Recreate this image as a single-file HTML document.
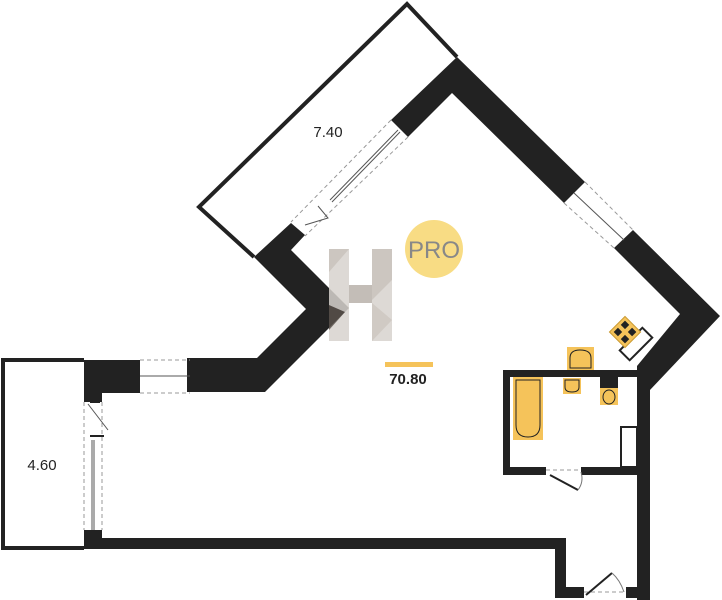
<!DOCTYPE html>
<html><head><meta charset="utf-8"><style>
html,body{margin:0;padding:0;background:#fff;}
svg{display:block;}
text{font-family:"Liberation Sans",sans-serif;}
</style></head><body>
<svg width="722" height="600" viewBox="0 0 722 600" xmlns="http://www.w3.org/2000/svg">
<!-- balcony 7.40 outline -->
<polyline points="254,257 199,207 407,4 457,57" fill="none" stroke="#222" stroke-width="4"/>
<!-- balcony 4.60 outline -->
<polyline points="84,360 3,360 3,548 84,548" fill="none" stroke="#222" stroke-width="4"/>

<g fill="#222">
<!-- NW/NE wall piece A -->
<polygon points="391,120 457,57 585,182 564,203 452,93 408,137"/>
<!-- NE wall piece B -->
<polygon points="633,230 720,316 650,390 650,600 637,600 637,366 680,314 614,248"/>
<!-- left notch wall -->
<polygon points="187,358 257,358 306,309 254,257 291,223 305,235 291,250 349,308 265,392 187,392"/>
<!-- left block -->
<polygon points="84,360 140,360 140,393 102,393 102,402 84,402"/>
<!-- bottom left block -->
<rect x="84" y="530" width="18" height="19"/>
<!-- bottom wall -->
<rect x="84" y="538" width="482" height="11"/>
<rect x="555" y="538" width="11" height="60"/>
<rect x="555" y="587" width="29" height="11"/>
<rect x="626" y="587" width="24" height="11"/>
<!-- bathroom walls -->
<rect x="503" y="370" width="134" height="7"/>
<rect x="503" y="370" width="7" height="105"/>
<rect x="503" y="467" width="43" height="8"/>
<rect x="581" y="467" width="56" height="8"/>
</g>
<rect x="621" y="427" width="16" height="40" fill="none" stroke="#222" stroke-width="2"/>

<!-- windows dashed -->
<g stroke="#999" stroke-width="1" stroke-dasharray="4,3" fill="none">
<line x1="391" y1="120" x2="291" y2="222"/>
<line x1="408" y1="137" x2="305" y2="236"/>
<line x1="585" y1="182" x2="633" y2="230"/>
<line x1="564" y1="203" x2="614" y2="248"/>
<line x1="140" y1="360" x2="190" y2="360"/>
<line x1="140" y1="393" x2="190" y2="393"/>
<line x1="84" y1="402" x2="84" y2="530"/>
<line x1="102" y1="402" x2="102" y2="530"/>
<line x1="546" y1="470" x2="581" y2="470"/>
<line x1="584" y1="592" x2="626" y2="592"/>
</g>
<g stroke="#555" stroke-width="1" fill="none">
<line x1="398" y1="130" x2="330" y2="200"/>
<line x1="400" y1="132" x2="332" y2="202"/>
<line x1="574" y1="193" x2="624" y2="240"/>
<line x1="164" y1="376" x2="166" y2="376"/>
<line x1="140" y1="376" x2="190" y2="376"/>
<line x1="92" y1="440" x2="92" y2="530"/>
<line x1="94" y1="440" x2="94" y2="530"/>
<polyline points="305,225 328,218 318,206"/>
<line x1="88" y1="404" x2="108" y2="430"/>
<line x1="90" y1="436" x2="104" y2="436" stroke="#222" stroke-width="2"/>
<line x1="90" y1="402" x2="100" y2="402" stroke="#222" stroke-width="2"/>
</g>
<line x1="550" y1="475" x2="578" y2="490" stroke="#222" stroke-width="2"/>
<path d="M578,490 Q584,482 581,472" fill="none" stroke="#777" stroke-width="1"/>
<line x1="586" y1="595" x2="612" y2="573" stroke="#222" stroke-width="2"/>
<path d="M612,573 Q620,580 624,592" fill="none" stroke="#777" stroke-width="1"/>

<!-- kitchen box -->
<g transform="translate(636,344) rotate(-45)">
<rect x="-16" y="-7" width="32" height="14" fill="#fff" stroke="#222" stroke-width="2"/>
</g>
<g transform="translate(625,332) rotate(45)">
<rect x="-11" y="-11" width="22" height="22" fill="#f5c35a" stroke="#c99a30" stroke-width="1"/>
<rect x="-8" y="-8" width="6" height="6" fill="#222"/>
<rect x="2" y="-8" width="6" height="6" fill="#222"/>
<rect x="-8" y="2" width="6" height="6" fill="#222"/>
<rect x="2" y="2" width="6" height="6" fill="#222"/>
</g>

<!-- bathroom fixtures -->
<rect x="513" y="377" width="30" height="63" fill="#f5c35a"/>
<path d="M516,380 L540,380 L540,425 Q540,437 528,437 Q516,437 516,425 Z" fill="none" stroke="#222" stroke-width="1"/>
<rect x="567" y="347" width="27" height="23" fill="#f5c35a"/>
<path d="M570,368 L591,368 L591,358 Q591,350 580,350 Q570,350 570,358 Z" fill="none" stroke="#222" stroke-width="1"/>
<rect x="563" y="378" width="18" height="16" fill="#f5c35a"/>
<path d="M565,380 L579,380 L579,387 Q579,392 572,392 Q565,392 565,387 Z" fill="none" stroke="#222" stroke-width="1"/>
<rect x="600" y="377" width="18" height="28" fill="#f5c35a"/>
<rect x="600" y="377" width="18" height="11" fill="#222"/>
<ellipse cx="609" cy="397" rx="6" ry="7" fill="none" stroke="#222" stroke-width="1"/>

<!-- H logo -->
<g opacity="0.85">
<rect x="329" y="249" width="20" height="92" fill="#d8d3ce"/>
<rect x="372" y="249" width="20" height="92" fill="#d8d3ce"/>
<rect x="349" y="285" width="23" height="18" fill="#b9b2ab"/>
<polygon points="329,249 349,249 329,272" fill="#c4bdb6"/>
<polygon points="372,249 392,249 392,280 372,300" fill="#c4bdb6"/>
<polygon points="329,305 345,312 329,330" fill="#5a524c"/>
<polygon points="372,303 392,320 372,341" fill="#c8c1ba"/>
</g>

<!-- PRO -->
<circle cx="434" cy="249" r="29" fill="#f8dc84"/>
<text x="434" y="258" font-size="24" fill="#888" text-anchor="middle">PRO</text>

<!-- area -->
<rect x="385" y="362" width="48" height="5" fill="#f5c35a"/>
<text x="408" y="384" font-size="15" font-weight="bold" fill="#222" text-anchor="middle">70.80</text>
<text x="328" y="137" font-size="15" fill="#222" text-anchor="middle">7.40</text>
<text x="42" y="470" font-size="15" fill="#222" text-anchor="middle">4.60</text>
</svg>
</body></html>
